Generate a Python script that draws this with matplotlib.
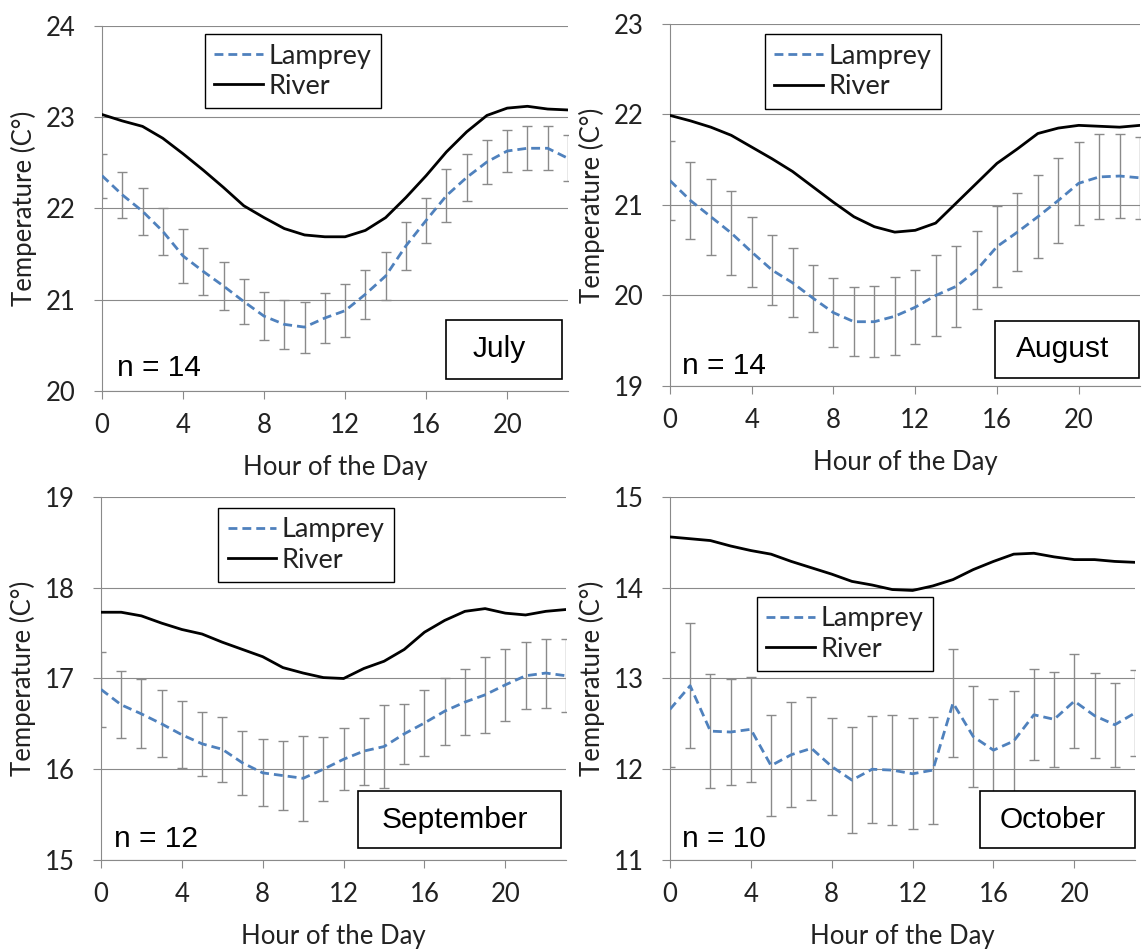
import numpy as np
import matplotlib
matplotlib.use("Agg")
import matplotlib.pyplot as plt
from matplotlib.patches import Rectangle

# === DATA ===
hours = np.arange(24)

jul_lamprey = [22.36, 22.15, 21.97, 21.75, 21.48, 21.31, 21.15, 20.98, 20.82, 20.73, 20.70, 20.80,
               20.88, 21.06, 21.26, 21.59, 21.87, 22.14, 22.34, 22.51, 22.63, 22.66, 22.66, 22.55]
jul_err = [0.24, 0.25, 0.26, 0.26, 0.30, 0.26, 0.26, 0.25, 0.26, 0.27, 0.28, 0.27,
           0.29, 0.27, 0.26, 0.26, 0.25, 0.29, 0.26, 0.24, 0.23, 0.24, 0.24, 0.25]
jul_river = [23.03, 22.96, 22.90, 22.77, 22.60, 22.42, 22.23, 22.03, 21.90, 21.78, 21.71, 21.69,
             21.69, 21.76, 21.90, 22.12, 22.36, 22.62, 22.84, 23.02, 23.10, 23.12, 23.09, 23.08]

aug_lamprey = [21.27, 21.05, 20.87, 20.69, 20.48, 20.28, 20.14, 19.97, 19.81, 19.71, 19.71, 19.77,
               19.87, 20.00, 20.10, 20.28, 20.54, 20.70, 20.87, 21.05, 21.24, 21.31, 21.32, 21.30]
aug_err = [0.44, 0.43, 0.42, 0.46, 0.39, 0.39, 0.38, 0.37, 0.38, 0.38, 0.39, 0.43,
           0.41, 0.45, 0.45, 0.43, 0.45, 0.43, 0.46, 0.47, 0.46, 0.47, 0.46, 0.45]
aug_river = [21.99, 21.93, 21.86, 21.77, 21.64, 21.51, 21.37, 21.20, 21.03, 20.87, 20.76, 20.70,
             20.72, 20.80, 21.02, 21.24, 21.46, 21.62, 21.79, 21.85, 21.88, 21.87, 21.86, 21.88]

sep_lamprey = [16.88, 16.71, 16.61, 16.50, 16.38, 16.28, 16.22, 16.07, 15.96, 15.93, 15.90, 16.00,
               16.11, 16.20, 16.25, 16.39, 16.51, 16.64, 16.74, 16.82, 16.93, 17.03, 17.06, 17.03]
sep_err = [0.41, 0.37, 0.38, 0.37, 0.37, 0.35, 0.36, 0.35, 0.37, 0.38, 0.47, 0.35,
           0.34, 0.37, 0.46, 0.33, 0.36, 0.37, 0.36, 0.42, 0.40, 0.37, 0.38, 0.40]
sep_river = [17.73, 17.73, 17.69, 17.61, 17.54, 17.49, 17.40, 17.32, 17.24, 17.12, 17.06, 17.01,
             17.00, 17.11, 17.19, 17.32, 17.51, 17.64, 17.74, 17.77, 17.72, 17.70, 17.74, 17.76]

oct_lamprey = [12.66, 12.92, 12.42, 12.41, 12.44, 12.04, 12.16, 12.23, 12.03, 11.88, 12.00, 11.99,
               11.95, 11.99, 12.73, 12.36, 12.21, 12.31, 12.60, 12.55, 12.75, 12.59, 12.49, 12.62]
oct_err = [0.63, 0.69, 0.63, 0.58, 0.58, 0.56, 0.58, 0.57, 0.53, 0.58, 0.59, 0.61,
           0.61, 0.59, 0.60, 0.56, 0.56, 0.55, 0.50, 0.52, 0.52, 0.47, 0.46, 0.47]
oct_river = [14.56, 14.54, 14.52, 14.46, 14.41, 14.37, 14.29, 14.22, 14.15, 14.07, 14.03, 13.98,
             13.97, 14.02, 14.09, 14.20, 14.29, 14.37, 14.38, 14.34, 14.31, 14.31, 14.29, 14.28]

months = ["July", "August", "September", "October"]
n_counts = [14, 14, 12, 10]
y_ranges = [(20, 24), (19, 23), (15, 19), (11, 15)]

# === STYLE / LAYOUT ===
tick_font = "Lato"
box_font = "Liberation Sans"
grey = "#8a8a8a"
text_col = "#222222"
lamprey_color = "#4F81BD"

panels = [
    # axes rect, legend anchor, month box (x0, y0, x1, y1), n label pos
    dict(rect=[0.089, 0.588, 0.4066, 0.3846], leg=(0.221, 0.978),
         box=(0.738, 0.033, 0.987, 0.195), npos=(0.032, 0.041)),
    dict(rect=[0.5846, 0.5933, 0.4102, 0.3814], leg=(0.202, 0.972),
         box=(0.691, 0.022, 0.998, 0.180), npos=(0.026, 0.033)),
    dict(rect=[0.0881, 0.0938, 0.4058, 0.3825], leg=(0.252, 0.970),
         box=(0.553, 0.033, 0.989, 0.190), npos=(0.028, 0.036)),
    dict(rect=[0.5846, 0.0938, 0.4058, 0.3825], leg=(0.187, 0.725),
         box=(0.667, 0.033, 1.0, 0.190), npos=(0.026, 0.036)),
]

series = [
    (jul_lamprey, jul_err, jul_river),
    (aug_lamprey, aug_err, aug_river),
    (sep_lamprey, sep_err, sep_river),
    (oct_lamprey, oct_err, oct_river),
]

fig = plt.figure(figsize=(11.46, 9.49), dpi=100)

for i, (lam, err, riv) in enumerate(series):
    p = panels[i]
    ax = fig.add_axes(p["rect"])
    lo, hi = y_ranges[i]

    ax.errorbar(hours, lam, yerr=err, fmt="none", ecolor=grey, elinewidth=1.0,
                capsize=3.5, capthick=1.0, zorder=2)
    ax.plot(hours, lam, color=lamprey_color, lw=2.0, ls=(0, (3.2, 1.8)),
            label="Lamprey", zorder=3)
    ax.plot(hours, riv, color="black", lw=2.0, label="River", zorder=3)

    ax.set_xlim(0, 23)
    ax.set_ylim(lo, hi)
    ax.set_xticks(range(0, 24, 4))
    ax.set_yticks(range(lo, hi + 1))
    ax.grid(axis="y", color=grey, lw=0.8)
    ax.set_axisbelow(True)

    for s in ["top", "right"]:
        ax.spines[s].set_visible(False)
    for s in ["left", "bottom"]:
        ax.spines[s].set_color(grey)
        ax.spines[s].set_linewidth(0.8)
    ax.tick_params(axis="x", length=6, width=0.8, color=grey, pad=10,
                   labelsize=18.5)
    ax.tick_params(axis="y", length=6, width=0.8, color=grey, pad=13,
                   labelsize=18.5)
    for lbl in ax.get_xticklabels() + ax.get_yticklabels():
        lbl.set_fontfamily(tick_font)
        lbl.set_color(text_col)

    ax.set_xlabel("Hour of the Day", fontsize=18.5, family=tick_font,
                  color=text_col, labelpad=12)
    ax.set_ylabel("Temperature (C°)", fontsize=18.5, family=tick_font,
                  color=text_col, labelpad=6)

    leg = ax.legend(loc="upper left", bbox_to_anchor=p["leg"], fancybox=False,
                    framealpha=1, edgecolor="black", handlelength=1.8,
                    handletextpad=0.2, labelspacing=0.2, borderpad=0.35,
                    borderaxespad=0, prop={"family": tick_font, "size": 19.5})
    leg.get_frame().set_linewidth(1.0)
    for t in leg.get_texts():
        t.set_color(text_col)
    leg.set_zorder(5)

    x0, y0, x1, y1 = p["box"]
    ax.add_patch(Rectangle((x0, y0), x1 - x0, y1 - y0, transform=ax.transAxes,
                           fill=True, facecolor="white", edgecolor="black",
                           lw=1.2, zorder=6, clip_on=False))
    ax.text((x0 + x1) / 2 - 0.01, (y0 + y1) / 2, months[i], transform=ax.transAxes,
            ha="center", va="center", fontsize=21.5, family=box_font, zorder=7)
    ax.text(p["npos"][0], p["npos"][1], f"n = {n_counts[i]}", transform=ax.transAxes,
            ha="left", va="baseline", fontsize=21.5, family=box_font, zorder=7)

fig.savefig("out.png", dpi=100)
